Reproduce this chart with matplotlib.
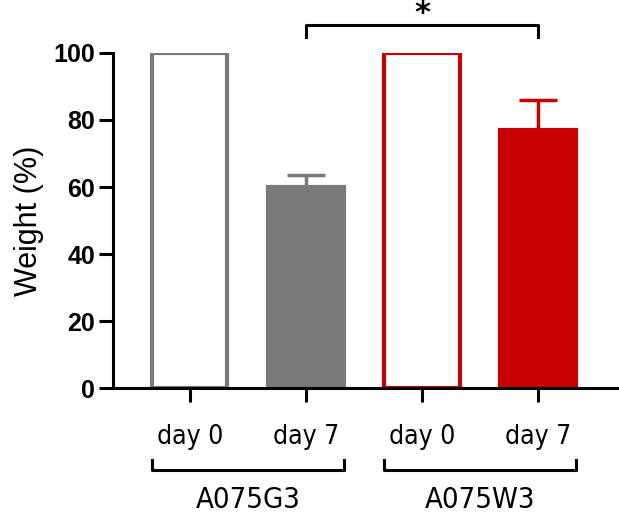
import matplotlib
matplotlib.use("Agg")
import matplotlib.pyplot as plt

# data
groups = ["A075G3", "A075W3"]
days = ["day 0", "day 7", "day 0", "day 7"]
weights = [100, 60, 100, 77]
errors_up = [0, 3.6, 0, 9]
edge_colors = ["#7a7a7a", "#7a7a7a", "#c80000", "#c80000"]
fill_colors = ["white", "#7a7a7a", "white", "#c80000"]
sig_pair = (1, 3)
sig_label = "*"

plt.rcParams["font.family"] = ["Liberation Sans", "DejaVu Sans"]
cond = dict(family="DejaVu Sans", stretch="condensed")

fig = plt.figure(figsize=(6.19, 5.14), dpi=100)
ax = fig.add_axes([0.1826, 0.2451, 0.8144, 0.6518])

x = list(range(len(weights)))
width = 0.65
ax.bar(x, weights, width=width, color=fill_colors, edgecolor=edge_colors, linewidth=3, zorder=2)

# upper error bars only
for xi, w, e, c in zip(x, weights, errors_up, edge_colors):
    if e > 0:
        ax.errorbar(xi, w, yerr=[[0], [e]], color=c, elinewidth=2.5, capsize=14,
                    capthick=2.5, zorder=1)

ax.set_xlim(-0.66, 3.68)
ax.set_ylim(0, 100)
ax.set_yticks([0, 20, 40, 60, 80, 100])
ax.set_yticklabels([str(v) for v in [0, 20, 40, 60, 80, 100]], fontsize=18, fontweight="bold")
ax.set_xticks(x)
ax.set_xticklabels(days, fontsize=19, **cond)

ax.spines["top"].set_visible(False)
ax.spines["right"].set_visible(False)
ax.spines["left"].set_bounds(0, 100)
ax.spines["left"].set_linewidth(2.2)
ax.spines["bottom"].set_linewidth(2.2)
ax.tick_params(axis="y", length=10, width=2.2, pad=3)
ax.tick_params(axis="x", length=10, width=2.2, pad=16)

ax.set_ylabel("Weight (%)", fontsize=22, labelpad=7)

# significance bracket
x1, x2 = sig_pair
ax.plot([x1, x1, x2, x2], [104.8, 108.4, 108.4, 104.8], color="black", lw=2.2,
        clip_on=False, solid_joinstyle="round")
ax.text((x1 + x2) / 2, 111.8, sig_label, ha="center", va="center", fontsize=22,
        fontweight="bold", family="DejaVu Sans")

# group brackets under the axis
trans = ax.get_xaxis_transform()
for gi, g in enumerate(groups):
    left = gi * 2 - width / 2
    right = gi * 2 + 1 + width / 2
    ax.plot([left, left, right, right], [-0.215, -0.245, -0.245, -0.215], color="black",
            lw=2.2, transform=trans, clip_on=False)
    ax.text(gi * 2 + 0.5, -0.335, g, ha="center", va="center", fontsize=21,
            transform=trans, **cond)

fig.savefig("out.png", dpi=100)
